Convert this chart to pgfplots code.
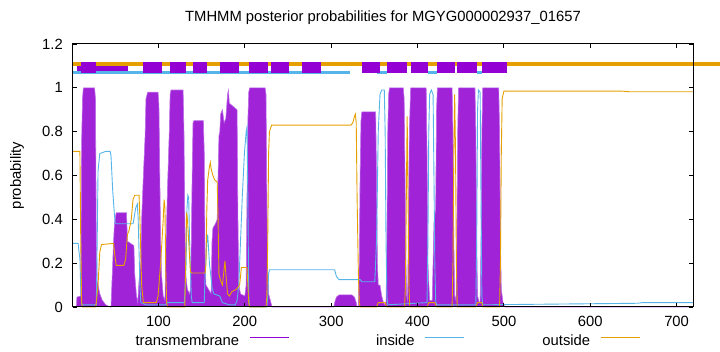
\documentclass[border=0pt]{standalone}
\usepackage{pgfplots}
\pgfplotsset{compat=1.18}
\usepackage{fontspec}
\setmainfont{Liberation Sans}
\definecolor{tmv}{RGB}{148,0,211}
\definecolor{tmfill}{RGB}{160,35,216}
\definecolor{tmedge}{RGB}{190,110,232}
\definecolor{inblue}{RGB}{86,180,233}
\definecolor{outorange}{RGB}{230,159,0}
\begin{document}
\begin{tikzpicture}[font=\fontsize{14.8}{17}\selectfont]
\begin{axis}[
 at={(0,0)}, anchor=south west,
 scale only axis, width=620pt, height=263pt,
 xmin=1, xmax=719, ymin=0, ymax=1.2,
 clip=false, axis on top,
 xtick={100,200,300,400,500,600,700},
 ytick={0,0.2,0.4,0.6,0.8,1,1.2},
 yticklabels={0,0.2,0.4,0.6,0.8,1,1.2},
 major tick length=4pt,
 tick style={black, line width=0.8pt},
 axis line style={line width=1pt},
 /pgf/number format/assume math mode=true,
 xticklabel style={anchor=base, inner sep=0pt, yshift=-20pt},
 yticklabel style={anchor=east, inner sep=0pt, xshift=-10pt},
 title={TMHMM posterior probabilities for MGYG000002937\_01657},
 title style={at={(0.5,1)}, anchor=base, yshift=16.5pt, inner sep=0pt},
 ylabel={probability},
 ylabel style={at={(axis description cs:-0.0839,0.5)}, anchor=base, inner sep=0pt},
 legend columns=3,
 legend plot pos=right,
 legend style={draw=none, fill=none, at={(axis description cs:0.0653,-0.1046)}, anchor=north west, inner sep=0pt, column sep=0pt, nodes={inner sep=0pt}},
 legend image code/.code={\draw[#1] (0pt,3pt) -- (39pt,3pt);},
]
% transmembrane probability
\addplot[draw=tmedge, fill=tmfill, line width=0.6pt, forget plot] coordinates {
(1,0) (5,0) (5.5,0.045) (10,0.05) (11,0.75) (12,0.95) (13,1.0) (26,1.0) (27,0.95) (28,0.3) (29,0.12) (32,0.06) (35,0.03) (39,0.01) (44,0)
(45,0) (46,0.1) (47,0.2) (48,0.3) (49,0.38) (51,0.43) (63,0.43) (64,0.3) (71.5,0.28) (72.5,0.15) (74.5,0.05) (76,0.02)
(77.5,0.12) (79.5,0.2) (80.5,0.4) (82.5,0.6) (84.5,0.78) (85.5,0.95) (87.5,0.98) (99.5,0.98) (100.5,0.92) (101.5,0.6) (102.5,0.3) (103.5,0.15) (105.5,0.05) (107.5,0.03)
(108.5,0.25) (109.5,0.4) (110.5,0.55) (112.5,0.8) (113.5,0.97) (114.5,0.99) (128.5,0.99) (129.5,0.8) (130.5,0.4) (131.5,0.15) (133.5,0.08) (136,0.06)
(137,0.08) (138,0.3) (139,0.6) (140,0.84) (141,0.85) (152,0.85) (153,0.7) (154,0.2) (155,0.1) (158,0.08) (161,0.06)
(162,0.3) (163,0.36) (166,0.38) (168,0.4) (169,0.6) (170,0.78) (171,0.8) (172,0.88) (174,0.9) (176,0.84) (178,0.86) (180,0.97) (181,0.99) (182,0.93) (185,0.92) (188,0.91) (191,0.9) (192,0.4) (193,0.1) (195,0.06) (200,0.05)
(201.5,0.1) (202.5,0.5) (203.5,0.85) (204.5,0.98) (205.5,1.0) (223.5,1.0) (224.5,0.97) (225.5,0.5) (226.5,0.15) (227.5,0.06) (229.5,0.03) (231.5,0)
(303,0) (304,0.02) (306,0.045) (309,0.055) (324,0.055) (327,0.045) (329,0.02) (330,0)
(331.5,0) (332.5,0.2) (333.5,0.6) (334.5,0.85) (335.5,0.89) (351.5,0.89) (352.5,0.6) (353.5,0.2) (354.5,0.1) (356.5,0.1) (358.5,0.05) (360.5,0.02) (362.5,0.01)
(363.5,0.02) (364.5,0.3) (365.5,0.8) (366.5,0.97) (367.5,1.0) (383.5,1.0) (384.5,0.95) (385.5,0.6) (386.5,0.2) (387.5,0.05) (388.5,0.03)
(389.5,0.4) (390.5,0.8) (392,1.0) (410,1.0) (411,0.7) (412,0.2) (414,0.03)
(417,0.03) (418,0.2) (419,0.38) (421,0.45) (422,0.9) (423,1.0) (440,1.0) (441,0.8) (442,0.3) (443,0.05)
(444.5,0.03) (445.5,0.3) (446.5,0.8) (447.5,1.0) (466.5,1.0) (467.5,0.8) (468.5,0.3) (469.5,0.05) (471.5,0.02)
(472.5,0.02) (473.5,0.3) (474.5,0.8) (475.5,1.0) (494,1.0) (495,0.8) (496,0.3) (497,0.08) (499,0.02) (501,0) (719,0)
};
% inside
\addplot[inblue, line width=0.9pt, forget plot] coordinates {
(1,0.29) (7,0.29) (8,0.25) (9,0.22) (10,0.08) (11,0.01) (28,0.01) (29,0.3) (30,0.62) (32,0.7) (39,0.71) (44,0.71) (45,0.69) (47,0.53) (49,0.42) (50,0.38) (70.5,0.38) (71.5,0.4) (73.5,0.45) (75.5,0.47) (76.5,0.4) (78.5,0.1) (79.5,0.02) (85.5,0.01) (108.5,0.01) (109.5,0.02) (130,0.02) (132,0.2) (133,0.45) (134,0.51) (135,0.5) (136,0.3) (138,0.05) (139,0.02) (153,0.02) (154,0.15) (156,0.3) (157,0.33) (159,0.2) (162,0.09) (164,0.06) (171,0.05) (174,0.02) (182,0.01) (189,0.01) (191,0.03) (193,0.1) (195,0.3) (197,0.5) (199.5,0.7) (201.5,0.8) (202.5,0.82) (203.5,0.5) (204.5,0.05) (205.5,0) (225.5,0) (226.5,0.05) (227.5,0.15) (228.5,0.17) (304,0.17) (306,0.14) (309,0.125) (333.5,0.125) (335.5,0.115) (350.5,0.115) (352.5,0.3) (354.5,0.8) (356.5,0.97) (358.5,0.99) (361.5,0.99) (362.5,0.8) (363.5,0.3) (364.5,0.05) (365.5,0.01) (411,0.02) (412,0.3) (413,0.8) (414,0.97) (416,0.99) (418,0.97) (419,0.6) (420,0.2) (421,0.03) (422,0.01) (467.5,0.01) (468.5,0.3) (469.5,0.9) (470.5,0.99) (472.5,0.98) (473.5,0.5) (474.5,0.05) (475.5,0.01) (655,0.017) (660,0.02) (719,0.02)
};
% outside
\addplot[outorange, line width=0.9pt, forget plot] coordinates {
(1,0.71) (9,0.71) (10,0.3) (11,0.02) (12,0) (27,0) (28,0.02) (30,0.1) (32,0.25) (34,0.285) (48,0.29) (49,0.25) (51,0.19) (60,0.19) (62,0.22) (64,0.33) (66,0.35) (68.5,0.4) (70.5,0.49) (72.5,0.51) (77.5,0.51) (78.5,0.4) (80.5,0.1) (82.5,0.02) (97.5,0.02) (99.5,0.05) (102.5,0.2) (105.5,0.4) (106.5,0.49) (107.5,0.45) (108.5,0.15) (109.5,0.02) (110.5,0) (130.5,0) (131.5,0.2) (132.5,0.43) (133.5,0.4) (135,0.3) (137,0.16) (139,0.155) (154,0.155) (155,0.2) (156,0.45) (157,0.58) (159,0.64) (160,0.66) (161,0.63) (163,0.6) (165,0.58) (168,0.57) (169,0.4) (170,0.15) (172,0.12) (174,0.1) (177,0.21) (178,0.15) (180,0.06) (182,0.05) (185,0.07) (190,0.08) (194,0.1) (196,0.18) (202.5,0.18) (203.5,0.1) (204.5,0.02) (205.5,0) (224.5,0) (225.5,0.05) (226.5,0.3) (227.5,0.7) (228.5,0.8) (231,0.83) (323,0.83) (325,0.84) (327,0.87) (328,0.88) (329,0.84) (330,0.5) (331.5,0.15) (332.5,0.02) (333.5,0) (352.5,0) (354.5,0.02) (362.5,0.02) (364.5,0) (385,0) (386,0.1) (387,0.5) (388,0.87) (389,0.5) (390,0.1) (391,0) (411,0) (413,0.02) (420,0.02) (422,0) (440,0) (441,0.2) (442,0.7) (443,0.97) (444,0.7) (445,0.2) (446,0) (467.5,0) (469.5,0.02) (474.5,0.02) (475.5,0) (495,0) (496,0.2) (497,0.7) (498,0.95) (500,0.985) (636,0.985) (646,0.982) (719,0.982)
};
% predicted topology lines
\addplot[outorange, line width=4pt, forget plot] coordinates {(1,1.11) (750,1.11)};
\addplot[inblue, line width=3pt, forget plot, unbounded coords=jump] coordinates {(1,1.072) (321.8,1.072) (330,nan) (353,1.072) (364.6,1.072) (390,nan) (412,1.072) (422.5,1.072) (440,nan) (468.9,1.072) (474.7,1.072)};
\addplot[tmv, line width=5pt, forget plot] coordinates {(5.6,1.09) (64.7,1.09)};
\addplot[tmv, line width=11pt, forget plot, unbounded coords=jump] coordinates {
(10.3,1.091) (27.6,1.091) (50,nan) (82.1,1.091) (104.1,1.091) (110,nan) (113.3,1.091) (131.9,1.091) (135,nan) (140,1.091) (156.2,1.091) (160,nan) (171.2,1.091) (193.2,1.091) (200,nan) (204.8,1.091) (226.8,1.091) (228,nan) (230.3,1.091) (251.1,1.091) (260,nan) (266.2,1.091) (288.2,1.091) (300,nan) (335.7,1.091) (356.5,1.091) (360,nan) (364.6,1.091) (387.8,1.091) (390,nan) (392.4,1.091) (412.1,1.091) (415,nan) (422.5,1.091) (443.4,1.091) (444,nan) (445.7,1.091) (468.9,1.091) (470,nan) (474.7,1.091) (503.6,1.091)
};
\addlegendimage{tmv, line width=1pt}
\addlegendentry{\makebox[135.5pt][r]{transmembrane\hspace{10pt}}}
\addlegendimage{inblue, line width=1pt}
\addlegendentry{\makebox[135.5pt][r]{inside\hspace{10pt}}}
\addlegendimage{outorange, line width=1pt}
\addlegendentry{\makebox[135.5pt][r]{outside\hspace{10pt}}}
\end{axis}
\pgfresetboundingbox
\path[use as bounding box] (-73pt,-45pt) rectangle (647pt,307pt);
\end{tikzpicture}
\end{document}
